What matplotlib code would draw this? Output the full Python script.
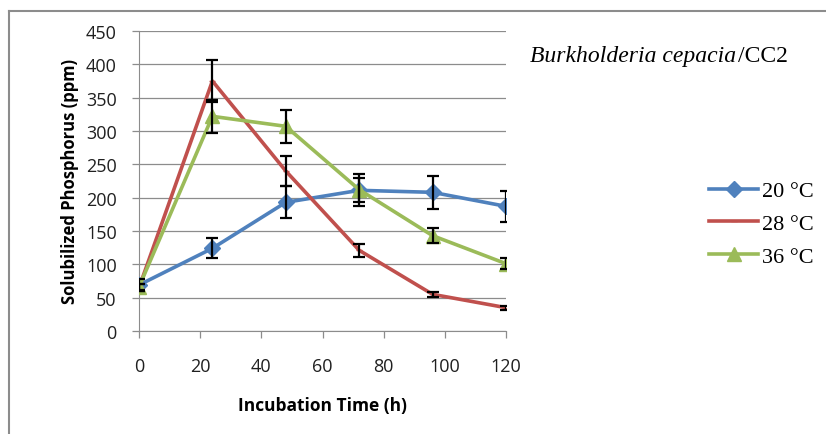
import matplotlib.pyplot as plt
from matplotlib.lines import Line2D

# incubation time (h)
hours = [0, 24, 48, 72, 96, 120]

# solubilized P (ppm) and error bars per temperature
p20 = [69, 124, 193, 211, 208, 187]
e20 = [9, 15, 24, 24, 25, 23]
p28 = [65, 375, 240, 121, 55, 35]
e28 = [5, 32, 22, 10, 4, 3]
p36 = [66, 322, 307, 212, 143, 101]
e36 = [5, 25, 25, 18, 11, 8]

labels = ['20 °C', '28 °C', '36 °C']
colors = ['#4F81BD', '#C0504D', '#9BBB59']
xticks = [0, 20, 40, 60, 80, 100, 120]
yticks = [0, 50, 100, 150, 200, 250, 300, 350, 400, 450]

fig = plt.figure(figsize=(8.26, 4.35), dpi=100)
ax = fig.add_axes([139 / 826, 1 - 332 / 435, (506 - 139) / 826, 300 / 435])

series = [(p20, e20, 'D', 8), (p28, e28, '_', 5), (p36, e36, '^', 10)]
for (vals, errs, mk, ms), lab, col in zip(series, labels, colors):
    ax.plot(hours, vals, color=col, lw=2.6, marker=mk, ms=ms,
            markeredgecolor=col, label=lab, zorder=3)
    ax.errorbar(hours, vals, yerr=errs, fmt='none', ecolor='black',
                elinewidth=1.6, capsize=4, capthick=1.6, zorder=4)

ax.set_xlim(0, 120)
ax.set_ylim(0, 450)
ax.set_xticks(xticks)
ax.set_yticks(yticks)
ax.grid(axis='y', color='#8c8c8c', lw=0.9)
ax.set_axisbelow(True)
for s in ['top', 'right']:
    ax.spines[s].set_visible(False)
for s in ['left', 'bottom']:
    ax.spines[s].set_color('#8c8c8c')
ax.tick_params(colors='#8c8c8c', length=5, width=0.9, direction='out')
ax.tick_params(axis='x', pad=14)
ax.tick_params(axis='y', pad=11)
for t in ax.get_xticklabels() + ax.get_yticklabels():
    t.set_fontsize(13)
    t.set_color('#202020')
    t.set_family('Open Sans')

ax.set_xlabel('Incubation Time (h)', fontsize=12.5, fontweight='bold',
              family='Open Sans', labelpad=15)
ax.set_ylabel('Solubilized Phosphorus (ppm)', fontsize=12, fontweight='bold',
              family='Open Sans', labelpad=5)

leg = ax.legend(loc='center left', bbox_to_anchor=(1.5, 0.357), frameon=False,
                prop={'family': 'Liberation Serif', 'size': 16},
                handlelength=2.2, labelspacing=0.55, handletextpad=0.15)

t1 = fig.text(530 / 826, 1 - 62 / 435, 'Burkholderia cepacia', fontsize=17,
              family='Liberation Serif', style='italic')
fig.canvas.draw()
bb = t1.get_window_extent()
fig.text(bb.x1 / 826 + 0.002, 1 - 62 / 435, '/CC2', fontsize=17,
         family='Liberation Serif')

# outer frame
fig.add_artist(Line2D([9 / 826, 1], [1 - 12 / 435] * 2, color='#8c8c8c', lw=1.5))
fig.add_artist(Line2D([9 / 826] * 2, [0, 1 - 12 / 435], color='#8c8c8c', lw=1.5))

fig.savefig('out.png', dpi=100)
